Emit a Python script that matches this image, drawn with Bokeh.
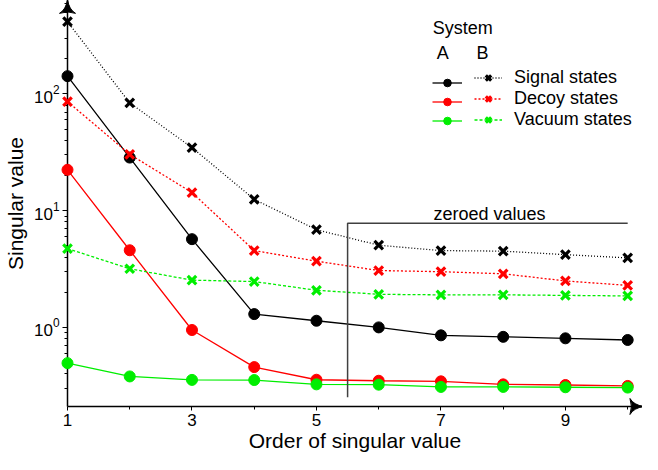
import math
from bokeh.plotting import figure
from bokeh.models import Range1d, FixedTicker, Legend, LegendItem, Label
from bokeh.embed import file_html
from bokeh.resources import INLINE

# ---- data ----
order = [1, 2, 3, 4, 5, 6, 7, 8, 9, 10]
signal_A = [142, 28.5, 5.7, 1.3, 1.14, 1.0, 0.855, 0.83, 0.806, 0.78]
signal_B = [416, 83.8, 34.7, 12.5, 6.87, 5.06, 4.55, 4.5, 4.2, 3.94]
decoy_A = [22.4, 4.58, 0.95, 0.457, 0.356, 0.349, 0.345, 0.325, 0.321, 0.315]
decoy_B = [86, 30.4, 14.3, 4.55, 3.69, 3.07, 3.0, 2.88, 2.5, 2.29]
vacuum_A = [0.494, 0.38, 0.355, 0.354, 0.325, 0.323, 0.309, 0.309, 0.307, 0.305]
vacuum_B = [4.73, 3.18, 2.54, 2.47, 2.08, 1.92, 1.9, 1.9, 1.88, 1.86]
x_major_ticks = [1, 3, 5, 7, 9]
x_minor_ticks = [2, 4, 6, 8, 10]
series_names = ["Signal states", "Decoy states", "Vacuum states"]

# ---- layout constants ----
X0, X1 = 1.0, 1.0 + 582 / 63.0
Y0, Y1 = 0.21, 632.0
PX_PER_X = 63.0
PX_PER_DEC = 113.6
zero_x = [5.5, 5.5, 10.0]
zero_y = [0.252, 7.82, 7.82]
FONT = "Liberation Sans"

p = figure(width=642, height=454, x_range=Range1d(X0, X1), y_range=Range1d(Y0, Y1),
           y_axis_type="log", output_backend="svg", toolbar_location=None,
           min_border_left=60, min_border_right=0, min_border_top=0, min_border_bottom=40)
p.outline_line_color = None
p.grid.visible = False
p.background_fill_color = "white"

for ax in (p.xaxis[0], p.yaxis[0]):
    ax.axis_line_color = "black"
    ax.axis_line_width = 1.5
    ax.major_tick_line_color = "black"
    ax.minor_tick_line_color = "black"
    ax.major_tick_in = 0
    ax.major_tick_out = 5
    ax.minor_tick_in = 0
    ax.minor_tick_out = 3
    ax.major_label_text_font = FONT
    ax.major_label_text_font_size = "17px"
    ax.major_label_text_color = "black"
    ax.axis_label_text_font = FONT
    ax.axis_label_text_font_size = "21px"
    ax.axis_label_text_font_style = "normal"
    ax.axis_label_text_color = "black"

p.xaxis.ticker = FixedTicker(ticks=x_major_ticks, minor_ticks=x_minor_ticks)
p.xaxis.axis_label = "Order of singular value"
p.xaxis.major_tick_out = 4
p.xaxis.major_label_standoff = 3
p.xaxis.axis_label_standoff = 0
p.yaxis.axis_label = "Singular value"
p.yaxis.major_label_standoff = 3
p.yaxis.axis_label_standoff = 4

colors = ["black", "#ff0000", "#00ee00"]
dashes = ["1 2", "2 2", "3 2"]
A_vals = [signal_A, decoy_A, vacuum_A]
B_vals = [signal_B, decoy_B, vacuum_B]

items_A, items_B = [], []
for vals_a, vals_b, c, d, name in zip(A_vals, B_vals, colors, dashes, series_names):
    lb = p.line(order, vals_b, line_color=c, line_width=1.3, line_dash=d)
    mb = p.scatter(order, vals_b, marker="x", size=12, line_color=c, line_width=3.2, level="overlay")
    la = p.line(order, vals_a, line_color=c, line_width=1.3)
    ma = p.scatter(order, vals_a, marker="circle", size=11, fill_color=c, line_color=c, level="overlay")
    items_A.append(LegendItem(label=" ", renderers=[la, ma]))
    items_B.append(LegendItem(label=name, renderers=[lb, mb]))

# zeroed-values bracket
p.line(zero_x, zero_y, line_color="#404040", line_width=1.5)
p.add_layout(Label(x=7.78, y=9.3, text="zeroed values", text_align="center",
                   text_baseline="alphabetic", text_font=FONT, text_font_size="18px",
                   text_color="black"))

common = dict(spacing=0, padding=0, margin=0, border_line_alpha=0,
              background_fill_alpha=0, glyph_height=19, label_height=19,
              label_text_font=FONT, label_text_font_size="18px", label_text_color="black")
legA = Legend(items=items_A, location=(365, 276), glyph_width=30, label_width=0,
              label_standoff=0, **common)
legB = Legend(items=items_B, location=(407, 276), glyph_width=28, label_standoff=12, **common)
p.add_layout(legA)
p.add_layout(legB)

for txt, xx, yy in [("System", 7.35, 364.7), ("A", 7.03, 223.2), ("B", 7.667, 223.2)]:
    p.add_layout(Label(x=xx, y=yy, text=txt, text_align="center", text_baseline="middle",
                       text_font=FONT, text_font_size="18px", text_color="black"))

# axis arrow heads (notched triangles at the ends of the axes)
HEAD = 16
p.scatter([X1 - (HEAD / 2) / PX_PER_X], [Y0], marker="triangle_pin", size=HEAD,
          angle=-math.pi / 2, fill_color="black", line_color="black", level="overlay")
p.scatter([X0], [Y1 / 10 ** ((HEAD / 2) / PX_PER_DEC)], marker="triangle_pin", size=HEAD,
          angle=0, fill_color="black", line_color="black", level="overlay")

open("out.html", "w").write(file_html(p, INLINE))
